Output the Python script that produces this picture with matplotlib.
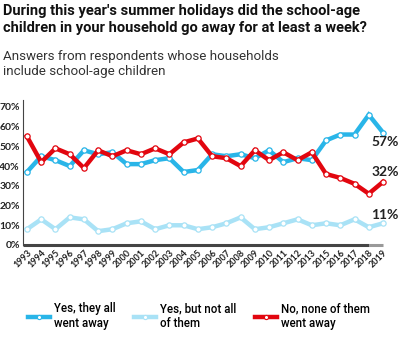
import matplotlib
matplotlib.use("Agg")
import matplotlib.pyplot as plt
from matplotlib.lines import Line2D

years = ["1993", "1994", "1995", "1996", "1997", "1998", "1999", "2000", "2001",
         "2002", "2003", "2004", "2005", "2006", "2007", "2008", "2009", "2010",
         "2011", "2012", "2013", "2015", "2016", "2017", "2018", "2019"]
all_away = [37, 45, 43, 40, 48, 46, 47, 41, 41, 43, 44, 37, 38, 46, 45, 46, 44, 48,
            42, 44, 43, 53, 56, 56, 66, 57]
not_all = [8, 13, 8, 14, 13, 7, 8, 11, 12, 8, 10, 10, 8, 9, 11, 14, 8, 9, 11, 13,
           10, 11, 10, 13, 9, 11]
none_away = [55, 42, 49, 46, 39, 48, 45, 48, 46, 49, 46, 52, 54, 45, 44, 40, 48, 43,
             47, 43, 47, 36, 34, 31, 26, 32]
yticks = [0, 10, 20, 30, 40, 50, 60, 70]
labels = ["Yes, they all\nwent away", "Yes, but not all\nof them", "No, none of them\nwent away"]

c_blue = "#29b5e8"
c_light = "#a9e2f6"
c_red = "#e2060f"

narrow = ["Lato", "DejaVu Sans"]
plt.rcParams['font.family'] = ["Lato", "DejaVu Sans"]

fig = plt.figure(figsize=(4.0, 3.39), dpi=100)
ax = fig.add_axes([22.7 / 400, 0.2773, 360.3 / 400, 0.4277])

x = list(range(len(years)))
series = [(not_all, c_light), (all_away, c_blue), (none_away, c_red)]
for vals, col in series:
    ax.plot(x, vals, color=col, lw=3.2, solid_joinstyle='miter', zorder=3,
            marker='o', ms=3.8, mfc='white', mec=col, mew=0.9, clip_on=False)

ax.set_xlim(-0.3, len(years) - 1)
ax.set_ylim(0, 73.5)
ax.set_yticks(yticks)
ax.set_yticklabels([f"{t}%" for t in yticks], family=narrow, fontsize=7.5,
                   fontweight='bold', color="#222222")
ax.set_xticks(x)
ax.set_xticklabels(years, rotation=45, ha='right', rotation_mode='anchor',
                   family=narrow, fontsize=6.5, fontweight='bold', color="#222222")
ax.tick_params(axis='both', length=0, pad=2)
for s in ['top', 'right', 'bottom']:
    ax.spines[s].set_visible(False)
ax.spines['left'].set_color("#444444")
ax.spines['left'].set_linewidth(0.8)

# baseline
ax.plot([-0.3, len(years) - 2], [0, 0], color="#444444", lw=2.2, clip_on=False, zorder=2,
        solid_capstyle='butt')
ax.plot([len(years) - 2, len(years) - 1], [0, 0], color="#999999", lw=2.2, clip_on=False,
        zorder=2, solid_capstyle='butt')

# end labels (right-aligned at the figure edge, just below/above the last point)
last = len(years) - 1
for vals, dy in [(all_away, -4.6), (none_away, 5.2), (not_all, 4.2)]:
    ax.annotate(f"{vals[-1]}%", xy=(last, vals[-1] + dy), xytext=(11.3, 0),
                textcoords='offset points', ha='right', va='center',
                family=narrow, fontsize=10, fontweight='bold', color="#222222",
                annotation_clip=False)

fig.text(3 / 400, 1 - 4 / 339,
         "During this year's summer holidays did the school-age\n"
         "children in your household go away for at least a week?",
         ha='left', va='top', fontsize=10.5, fontweight='bold', color="#111111",
         family=["Roboto", "DejaVu Sans"], linespacing=1.25)
fig.text(3 / 400, 1 - 50 / 339,
         "Answers from respondents whose households\ninclude school-age children",
         ha='left', va='top', fontsize=9.6, color="#333333", linespacing=1.25,
         family=["Roboto", "DejaVu Sans"])

handles = [Line2D([0], [0], color=c, lw=3.2, marker='o', ms=3, mfc='white', mec=c, mew=0.8)
           for c in (c_blue, c_light, c_red)]
fig.legend(handles, labels, loc='upper left', bbox_to_anchor=(28 / 400, 1 - 302 / 339),
           ncol=3, frameon=False, handlelength=1.9, handletextpad=0.35,
           columnspacing=1.6, borderaxespad=0, borderpad=0,
           prop={'family': ["Roboto", "DejaVu Sans"], 'size': 8.3, 'weight': 'medium'})

fig.savefig("out.png", dpi=100)
